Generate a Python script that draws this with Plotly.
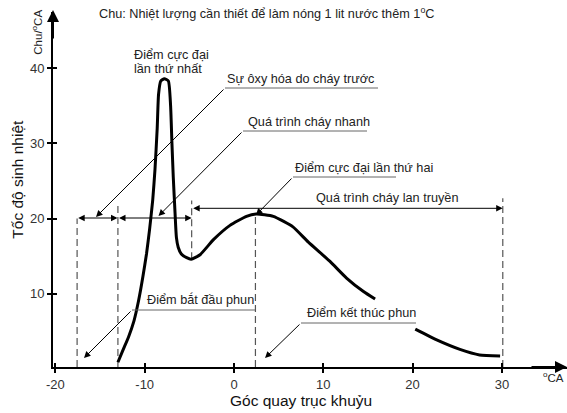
import plotly.graph_objects as go

# ---- data ----
angle = [-13.0, -12.4, -11.8, -11.2, -10.7, -10.2, -9.8, -9.45, -9.1, -8.85, -8.6, -8.45, -8.2,
         -7.8, -7.35, -7.1, -6.95, -6.8, -6.6, -6.45, -6.25, -5.9, -5.3, -4.8, -3.8, -2.3,
         -0.45, 1.4, 2.5, 4.4, 6.6, 8.3, 10.75, 12.6, 14.5, 15.8, None,
         20.3, 22.7, 25.3, 27.5, 29.8]
heat = [0.9, 2.6, 4.3, 6.4, 9.0, 12.3, 15.3, 18.6, 22.5, 26.5, 32.0, 36.5, 38.3,
        38.6, 38.3, 35.0, 30.0, 25.5, 20.7, 17.5, 16.2, 15.3, 14.8, 14.6, 15.2, 17.2,
        19.1, 20.3, 20.6, 20.3, 18.9, 16.9, 14.3, 12.1, 10.3, 9.3, None,
        5.3, 3.86, 2.6, 1.86, 1.73]

event_angles = [-17.57, -13.0, -4.74, 2.4, 30.1]
event_tops = [20.0, 21.8, 22.4, 20.5, 22.7]
event_bottoms = [0.27, 0.27, 14.6, 0.27, 0.27]

x_ticks = [-20, -10, 0, 10, 20, 30]
x_tick_labels = ["-20", "-10", "0", "10", "20", "30"]
y_ticks = [10, 20, 30, 40]
y_tick_labels = ["10", "20", "30", "40"]

FONT = "Liberation Sans, Arial, sans-serif"
ASIZE = 12.7

# pixel -> data helpers for decoration placement
X0, SX = 234.0, 8.93
Y0, SY = 369.0, 7.52
L, R, T, B = 53, 567, 12, 367


def X(px):
    return (px - X0) / SX


def Y(py):
    return (Y0 - py) / SY


def PX(px):
    return (px - L) / (R - L)


def PY(py):
    return (B - py) / (B - T)


fig = go.Figure()

# dashed event lines
for xa, yt, yb in zip(event_angles, event_tops, event_bottoms):
    fig.add_trace(go.Scatter(x=[xa, xa], y=[yb, yt], mode="lines",
                             line=dict(color="#555", width=1.2, dash="7px,4px"),
                             showlegend=False, hoverinfo="skip"))

# main curve
fig.add_trace(go.Scatter(x=angle, y=heat, mode="lines",
                         line=dict(color="black", width=3, shape="spline", smoothing=0.5),
                         connectgaps=False, showlegend=False, hoverinfo="skip"))

# dummy trace for crossing ticks
fig.add_trace(go.Scatter(x=[None], y=[None], xaxis="x2", yaxis="y2",
                         showlegend=False, hoverinfo="skip"))

ann = []
shapes = []

# leader lines with labels: (tip_px, start_px, underline_end_px, text, text_left_px, text_cy_px)
leaders = [
    ((96, 217), (225, 88), 378, "Sự ôxy hóa do cháy trước", 225, 79),
    ((158.5, 216), (243, 131), 367, "Quá trình cháy nhanh", 246, 122),
    ((256, 215), (293, 177), 396, "Điểm cực đại lần thứ hai", 293, 168),
    ((84, 358), (132, 310), 255, "Điểm bắt đầu phun", 145, 299),
    ((265, 358), (301, 323), 416, "Điểm kết thúc phun", 305, 313),
]
for tip, start, uend, text, tl, tcy in leaders:
    shapes.append(dict(type="line", xref="x", yref="y", x0=X(start[0]), y0=Y(start[1]),
                       x1=X(uend), y1=Y(start[1]), line=dict(color="#666", width=1)))
    ann.append(dict(x=X(tip[0]), y=Y(tip[1]), ax=X(start[0]), ay=Y(start[1]),
                    xref="x", yref="y", axref="x", ayref="y", text="", showarrow=True,
                    arrowhead=2, arrowsize=1.3, arrowwidth=1, arrowcolor="black",
                    standoff=0, startstandoff=0))
    ann.append(dict(x=PX(tl), y=PY(tcy), xref="paper", yref="paper", text=text,
                    showarrow=False, xanchor="left", yanchor="middle",
                    font=dict(family=FONT, size=ASIZE, color="#222")))

# double arrows
dbl = [((76.7, 218), (117.5, 218)), ((117.5, 218), (191.7, 218)), ((191.7, 208.3), (502.7, 208.3))]
for a, b in dbl:
    ann.append(dict(x=X(b[0]), y=Y(b[1]), ax=X(a[0]), ay=Y(a[1]),
                    xref="x", yref="y", axref="x", ayref="y", text="", showarrow=True,
                    arrowhead=2, startarrowhead=2, arrowside="end+start",
                    arrowsize=1.3, startarrowsize=1.3, arrowwidth=1, arrowcolor="black",
                    standoff=0, startstandoff=0))

ann.append(dict(x=PX(387), y=PY(198), xref="paper", yref="paper", text="Quá trình cháy lan truyền",
                showarrow=False, xanchor="center", yanchor="middle",
                font=dict(family=FONT, size=ASIZE, color="#222")))
ann.append(dict(x=PX(131.7), y=PY(55), xref="paper", yref="paper", text="Điểm cực đại",
                showarrow=False, xanchor="left", yanchor="middle",
                font=dict(family=FONT, size=ASIZE, color="#222")))
ann.append(dict(x=PX(131.7), y=PY(68.5), xref="paper", yref="paper", text="lần thứ nhất",
                showarrow=False, xanchor="left", yanchor="middle",
                font=dict(family=FONT, size=ASIZE, color="#222")))
ann.append(dict(x=PX(96.7), y=PY(13.5), xref="paper", yref="paper",
                text="Chu: Nhiệt lượng cần thiết để làm nóng 1 lit nước thêm 1<sup>o</sup>C",
                showarrow=False, xanchor="left", yanchor="middle",
                font=dict(family=FONT, size=ASIZE, color="#222")))
ann.append(dict(x=PX(36.7), y=PY(32), xref="paper", yref="paper", text="Chu/<sup>o</sup>CA",
                textangle=-90, showarrow=False, xanchor="center", yanchor="middle",
                font=dict(family=FONT, size=11.5, color="#222")))
ann.append(dict(x=PX(566), y=PY(377), xref="paper", yref="paper", text="<sup>o</sup>CA",
                showarrow=False, xanchor="right", yanchor="middle",
                font=dict(family=FONT, size=11.5, color="#222")))
ann.append(dict(x=PX(16.7), y=PY(179), xref="paper", yref="paper", text="Tốc độ sinh nhiệt",
                textangle=-90, showarrow=False, xanchor="center", yanchor="middle",
                font=dict(family=FONT, size=15.5, color="#111")))
ann.append(dict(x=PX(301), y=PY(400), xref="paper", yref="paper", text="Góc quay trục khuỷu",
                showarrow=False, xanchor="center", yanchor="middle",
                font=dict(family=FONT, size=15.5, color="#111")))

# axis arrowheads
ann.append(dict(x=X(53), y=Y(10), ax=X(53), ay=Y(40), xref="x", yref="y", axref="x", ayref="y",
                text="", showarrow=True, arrowhead=2, arrowsize=1.2, arrowwidth=2,
                arrowcolor="black", standoff=0))
ann.append(dict(x=X(567), y=Y(367), ax=X(530), ay=Y(367), xref="x", yref="y", axref="x", ayref="y",
                text="", showarrow=True, arrowhead=2, arrowsize=1.2, arrowwidth=2,
                arrowcolor="black", standoff=0))

xr = [X(L), X(R)]
yr = [Y(B), Y(T)]

fig.update_layout(
    width=567, height=413,
    margin=dict(l=L, r=567 - R, t=T, b=413 - B),
    paper_bgcolor="white", plot_bgcolor="white",
    showlegend=False,
    annotations=ann, shapes=shapes,
    xaxis=dict(range=xr, tickvals=x_ticks, ticktext=x_tick_labels, showgrid=False, zeroline=False,
               showline=True, linecolor="black", linewidth=2,
               ticks="outside", ticklen=4, tickwidth=1.5, tickcolor="black",
               tickfont=dict(family=FONT, size=13, color="#333")),
    yaxis=dict(range=yr, tickvals=y_ticks, ticktext=y_tick_labels, showgrid=False, zeroline=False,
               showline=True, linecolor="black", linewidth=2,
               ticks="outside", ticklen=4, tickwidth=1.5, tickcolor="black",
               tickfont=dict(family=FONT, size=13, color="#333")),
    xaxis2=dict(range=xr, tickvals=x_ticks, overlaying="x", showgrid=False, zeroline=False,
                showticklabels=False, ticks="inside", ticklen=4, tickwidth=1.5, tickcolor="black"),
    yaxis2=dict(range=yr, tickvals=y_ticks, overlaying="y", showgrid=False, zeroline=False,
                showticklabels=False, ticks="inside", ticklen=4, tickwidth=1.5, tickcolor="black"),
)

fig.write_html("out.html")
